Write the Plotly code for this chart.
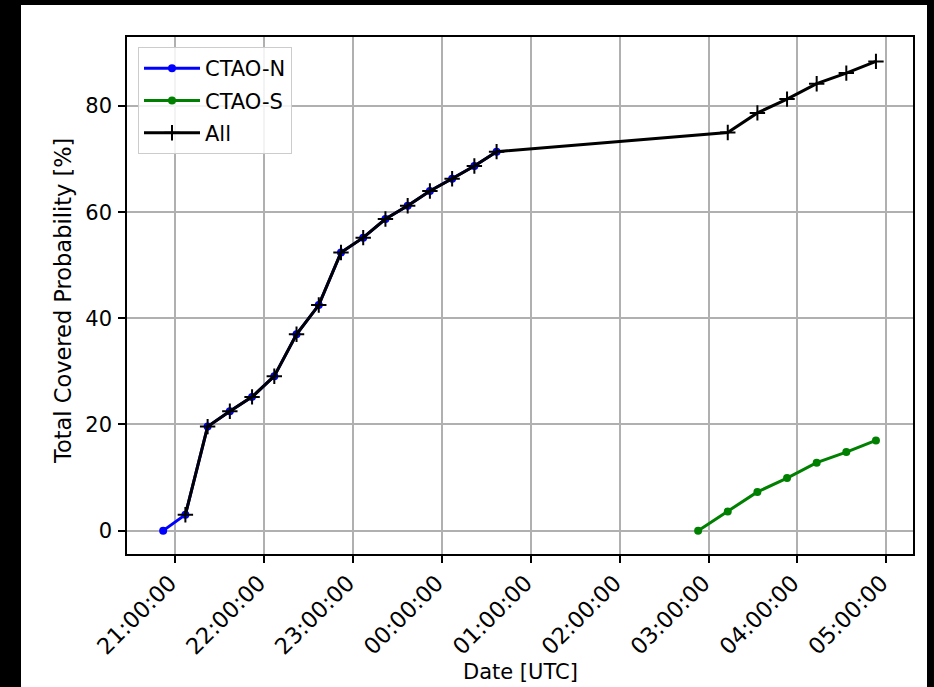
import plotly.graph_objects as go

# ---- data ----
n_times = ["2024-01-01 20:52", "2024-01-01 21:07", "2024-01-01 21:22", "2024-01-01 21:37",
           "2024-01-01 21:52", "2024-01-01 22:07", "2024-01-01 22:22", "2024-01-01 22:37",
           "2024-01-01 22:52", "2024-01-01 23:07", "2024-01-01 23:22", "2024-01-01 23:37",
           "2024-01-01 23:52", "2024-01-02 00:07", "2024-01-02 00:22", "2024-01-02 00:37"]
n_values = [0.0, 3.0, 19.6, 22.5, 25.2, 29.1, 37.0, 42.5, 52.4, 55.2, 58.7, 61.2, 64.0, 66.3, 68.7, 71.4]

s_times = ["2024-01-02 02:53", "2024-01-02 03:13", "2024-01-02 03:33", "2024-01-02 03:53",
           "2024-01-02 04:13", "2024-01-02 04:33", "2024-01-02 04:53"]
s_values = [0.0, 3.6, 7.3, 9.9, 12.8, 14.8, 17.0]

all_times = ["2024-01-01 21:07", "2024-01-01 21:22", "2024-01-01 21:37",
             "2024-01-01 21:52", "2024-01-01 22:07", "2024-01-01 22:22", "2024-01-01 22:37",
             "2024-01-01 22:52", "2024-01-01 23:07", "2024-01-01 23:22", "2024-01-01 23:37",
             "2024-01-01 23:52", "2024-01-02 00:07", "2024-01-02 00:22", "2024-01-02 00:37",
             "2024-01-02 03:13", "2024-01-02 03:33", "2024-01-02 03:53",
             "2024-01-02 04:13", "2024-01-02 04:33", "2024-01-02 04:53"]
all_values = [3.0, 19.6, 22.5, 25.2, 29.1, 37.0, 42.5, 52.4, 55.2, 58.7, 61.2, 64.0, 66.3, 68.7, 71.4,
              75.0, 78.7, 81.3, 84.2, 86.2, 88.4]

x_range = ["2024-01-01 20:27:36", "2024-01-02 05:18:00"]
y_range = [-4.4, 93.0]
y_ticks = [0, 20, 40, 60, 80]

FONT = "DejaVu Sans"
FS = 21

fig = go.Figure()
fig.add_trace(go.Scatter(x=n_times, y=n_values, mode="lines+markers", name="CTAO-N",
                         line=dict(color="#0000ff", width=3),
                         marker=dict(symbol="circle", size=8, color="#0000ff"),
                         legendgroup="n"))
fig.add_trace(go.Scatter(x=s_times, y=s_values, mode="lines+markers", name="CTAO-S",
                         line=dict(color="#008000", width=3),
                         marker=dict(symbol="circle", size=8, color="#008000"),
                         legendgroup="s"))
fig.add_trace(go.Scatter(x=all_times, y=all_values, mode="lines+markers", name="All",
                         line=dict(color="#000000", width=3),
                         marker=dict(symbol="cross-thin", size=11,
                                     line=dict(color="#000000", width=2)),
                         legendgroup="a"))

L, R, T, B = 127, 21, 37, 133
W, H = 934, 687
pw, ph = W - L - R, H - T - B

def px_x(p):
    return (p - L) / pw

def px_y(p):
    return (H - B - p) / ph

fig.update_layout(
    width=W, height=H,
    margin=dict(l=L, r=R, t=T, b=B, pad=0),
    paper_bgcolor="#000000",
    plot_bgcolor="#ffffff",
    font=dict(family=FONT, size=FS, color="#000000"),
    showlegend=True,
    legend=dict(x=px_x(138), y=px_y(47), xanchor="left", yanchor="top",
                bgcolor="rgba(255,255,255,0.85)", bordercolor="#cccccc", borderwidth=1,
                font=dict(family=FONT, size=FS, color="#000000"),
                tracegroupgap=2, itemwidth=56),
    xaxis=dict(range=x_range, type="date", dtick=3600000, tick0="2024-01-01 21:00",
               tickformat="%H:%M:%S", tickangle=-45,
               showgrid=True, gridcolor="#b0b0b0", gridwidth=1.6,
               showline=True, linecolor="#000000", linewidth=1.6, mirror=True,
               ticks="outside", ticklen=7, tickwidth=1.6, tickcolor="#000000",
               ticklabelshift=-5, ticklabelstandoff=-2,
               zeroline=False, tickfont=dict(family=FONT, size=22.5, color="#000000")),
    yaxis=dict(range=y_range, tickvals=y_ticks,
               showgrid=True, gridcolor="#b0b0b0", gridwidth=1.6,
               showline=True, linecolor="#000000", linewidth=1.6, mirror=True,
               ticks="outside", ticklen=7, tickwidth=1.6, tickcolor="#000000",
               ticklabelstandoff=2,
               zeroline=False, tickfont=dict(family=FONT, size=FS, color="#000000")),
    shapes=[dict(type="rect", xref="paper", yref="paper", layer="below",
                 x0=px_x(21), x1=px_x(927), y0=px_y(5), y1=px_y(690),
                 fillcolor="#ffffff", line=dict(width=0))],
    annotations=[
        dict(text="Date [UTC]", xref="paper", yref="paper", x=0.5, y=px_y(672),
             xanchor="center", yanchor="middle", showarrow=False,
             font=dict(family=FONT, size=FS, color="#000000")),
        dict(text="Total Covered Probability [%]", xref="paper", yref="paper",
             x=px_x(63), y=px_y(301), xanchor="center", yanchor="middle", textangle=-90,
             showarrow=False, font=dict(family=FONT, size=22.5, color="#000000")),
    ],
)

fig.write_html("out.html")
